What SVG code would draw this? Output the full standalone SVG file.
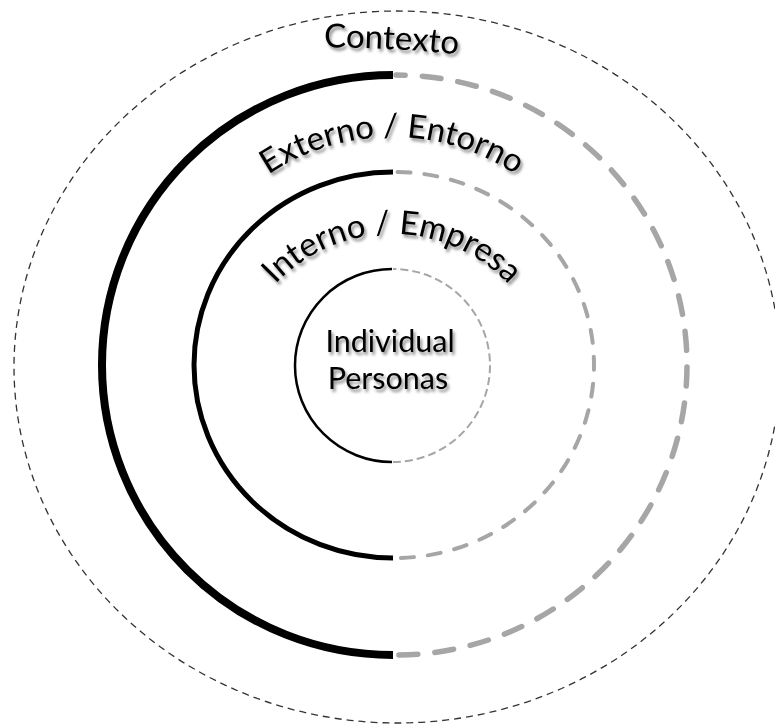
<svg xmlns="http://www.w3.org/2000/svg" width="775" height="725" viewBox="0 0 775 725">
  <defs>
    <filter id="textShadow" x="-10%" y="-30%" width="120%" height="160%">
      <feDropShadow dx="2" dy="3" stdDeviation="1.6" flood-color="#000" flood-opacity="0.45"/>
    </filter>
    <!-- baselines for the curved labels -->
    <path id="arcContexto" d="M 300 47.5 Q 391 46 482 57"/>
    <path id="arcExterno" d="M 170 359 A 222 222 0 0 1 614 359"/>
    <path id="arcInterno" d="M 232 394 A 160 160 0 0 1 552 394"/>
  </defs>
  <style>
    .label { font-family: Lato, "Open Sans", "Liberation Sans", sans-serif; font-size: 33px; fill: #000; filter: url(#textShadow); }
    .center { font-size: 30.5px; }
    .solid { fill: none; stroke: #000; stroke-linecap: butt; }
    .soft { fill: none; stroke: #a6a6a6; }
  </style>

  <rect width="775" height="725" fill="#fff"/>

  <!-- outermost boundary -->
  <g id="contexto">
    <ellipse cx="397" cy="367" rx="383" ry="356" fill="none" stroke="#333" stroke-width="1.3" stroke-dasharray="7 5"/>
    <text class="label"><textPath href="#arcContexto" startOffset="50%" text-anchor="middle">Contexto</textPath></text>
  </g>

  <!-- outer ring: solid left half, soft dashed right half -->
  <g id="externo">
    <path class="solid" stroke-width="8" d="M 393 75 A 291 290 0 0 0 393 655"/>
    <path class="soft" stroke-width="5.5" stroke-linecap="round" stroke-dasharray="19 17" stroke-dashoffset="-3" d="M 396 655 A 291 290 0 0 0 396 75"/>
    <text class="label"><textPath href="#arcExterno" startOffset="50%" text-anchor="middle">Externo / Entorno</textPath></text>
  </g>

  <!-- middle ring -->
  <g id="interno">
    <path class="solid" stroke-width="5" d="M 393 172 A 199 193 0 0 0 393 558"/>
    <path class="soft" stroke-width="4" stroke-linecap="round" stroke-dasharray="13 14" stroke-dashoffset="-6" d="M 395 558 A 199 193 0 0 0 395 172"/>
    <text class="label"><textPath href="#arcInterno" startOffset="50%" text-anchor="middle">Interno / Empresa</textPath></text>
  </g>

  <!-- inner circle -->
  <g id="individual">
    <path class="solid" stroke-width="2.5" d="M 392 269 A 97 96.5 0 0 0 392 462"/>
    <path class="soft" stroke-width="2" stroke-dasharray="8 4" d="M 393 462 A 97 96.5 0 0 0 393 269"/>
    <text class="label center" text-anchor="middle" x="390" y="352">Individual</text>
    <text class="label center" text-anchor="middle" x="388" y="389">Personas</text>
  </g>

  <g id="connectors"/>
</svg>
